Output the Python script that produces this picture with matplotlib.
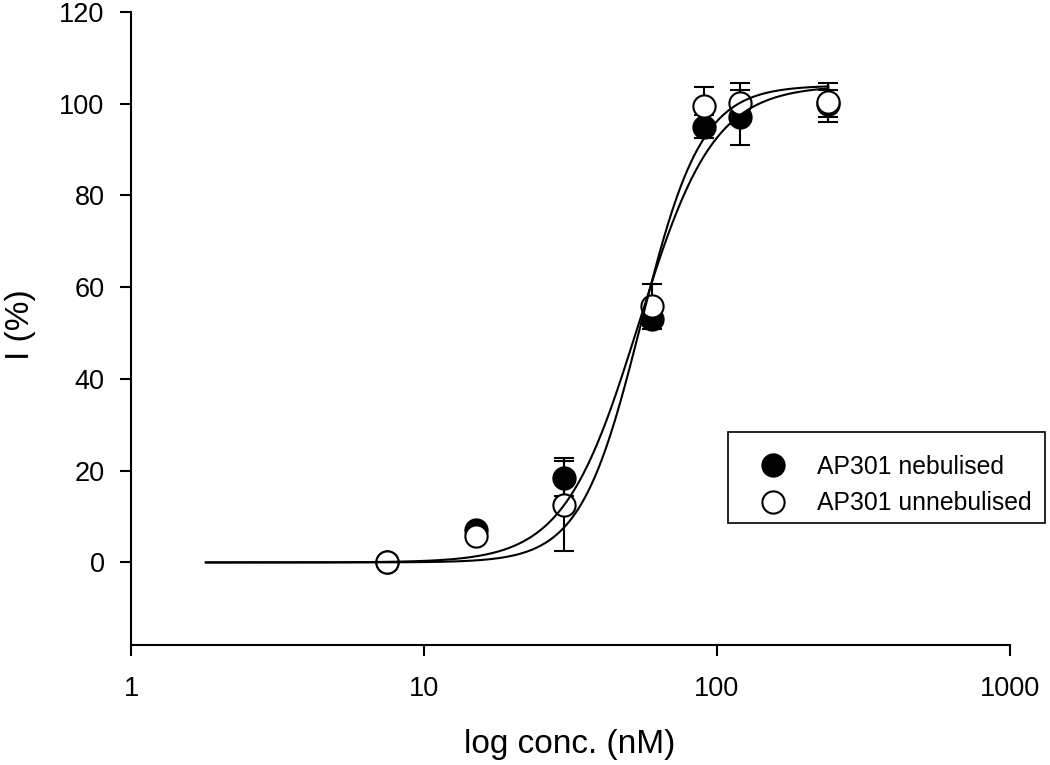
import numpy as np
import matplotlib
matplotlib.use("Agg")
import matplotlib.pyplot as plt
from matplotlib.lines import Line2D
from matplotlib.patches import Rectangle

plt.rcParams['font.family'] = ['Liberation Sans', 'DejaVu Sans']

# ---- data ----
conc = [7.5, 15, 30, 60, 90, 120, 240]
neb_mean = [0.0, 7.0, 18.3, 53.0, 95.0, 97.0, 100.0]
neb_err = [0.0, 0.5, 3.9, 1.5, 2.5, 6.0, 3.0]
unneb_mean = [0.0, 5.7, 12.6, 55.8, 99.4, 100.1, 100.3]
unneb_err = [0.0, 0.5, 10.2, 5.0, 4.2, 4.5, 4.3]

# fitted Hill curve parameters (top, EC50, Hill slope)
neb_fit = (104.0, 54.0, 3.4)
unneb_fit = (104.0, 55.0, 4.2)
fit_range = (1.8, 240.0)

xticks = [1, 10, 100, 1000]
yticks = [0, 20, 40, 60, 80, 100, 120]
labels = ["AP301 nebulised", "AP301 unnebulised"]


def hill(x, top, ec50, n):
    return top * x ** n / (ec50 ** n + x ** n)


W, H = 1050, 765
fig = plt.figure(figsize=(W / 100, H / 100), dpi=100)
ax = fig.add_axes([131 / W, 1 - 645 / H, (1010 - 131) / W, (645 - 12) / H])

ax.set_xscale('log')
ax.set_xlim(1, 1000)
ax.set_ylim(-18, 120)

ms = 16
lw = 1.5
ax.errorbar(conc, neb_mean, yerr=neb_err, fmt='none', ecolor='black',
            elinewidth=lw, capsize=7, capthick=lw, zorder=2)
ax.errorbar(conc, unneb_mean, yerr=unneb_err, fmt='none', ecolor='black',
            elinewidth=lw, capsize=7, capthick=lw, zorder=2)
ax.plot(conc, neb_mean, 'o', ms=ms, mfc='black', mec='black', mew=lw,
        linestyle='none', zorder=3)
ax.plot(conc, unneb_mean, 'o', ms=ms, mfc='white', mec='black', mew=lw,
        linestyle='none', zorder=4)

xs = np.logspace(np.log10(fit_range[0]), np.log10(fit_range[1]), 400)
ax.plot(xs, hill(xs, *neb_fit), color='black', lw=1.5, zorder=5)
ax.plot(xs, hill(xs, *unneb_fit), color='black', lw=1.5, zorder=5)

ax.set_xticks(xticks)
ax.set_xticklabels([str(t) for t in xticks])
ax.xaxis.set_minor_locator(matplotlib.ticker.NullLocator())
ax.set_yticks(yticks)
ax.set_yticklabels([str(t) for t in yticks])

for s in ['top', 'right']:
    ax.spines[s].set_visible(False)
for s in ['left', 'bottom']:
    ax.spines[s].set_linewidth(1.5)
ax.tick_params(axis='both', direction='out', length=8, width=1.5,
               labelsize=19.5, colors='black')
ax.tick_params(axis='y', pad=11)
ax.tick_params(axis='x', pad=14)

fig.text(570 / W, 1 - 745 / H, "log conc. (nM)", ha='center', va='center',
         fontsize=24)
fig.text(20 / W, 1 - 325 / H, "I (%)", ha='center', va='center',
         fontsize=24, rotation=90)

# legend: frame drawn as a rectangle, entries via legend without frame
fig.patches.append(Rectangle((728 / W, 1 - 523 / H), (1045 - 728) / W, (523 - 432) / H,
                             transform=fig.transFigure, fill=False,
                             edgecolor='black', linewidth=1.2, zorder=10))
handles = [
    Line2D([], [], marker='o', ls='none', ms=ms, mfc='black', mec='black', mew=lw),
    Line2D([], [], marker='o', ls='none', ms=ms, mfc='white', mec='black', mew=lw),
]
leg_fs = 17.8
fs_px = leg_fs * 100 / 72
leg = fig.legend(handles, labels, loc='upper left',
                 bbox_to_anchor=((773 - fs_px / 2) / W, 1 - 455 / H),
                 bbox_transform=fig.transFigure,
                 fontsize=leg_fs, frameon=False, handlelength=1.0,
                 handletextpad=1.28, borderpad=0, labelspacing=0.5,
                 borderaxespad=0)

fig.savefig('out.png', dpi=100)
